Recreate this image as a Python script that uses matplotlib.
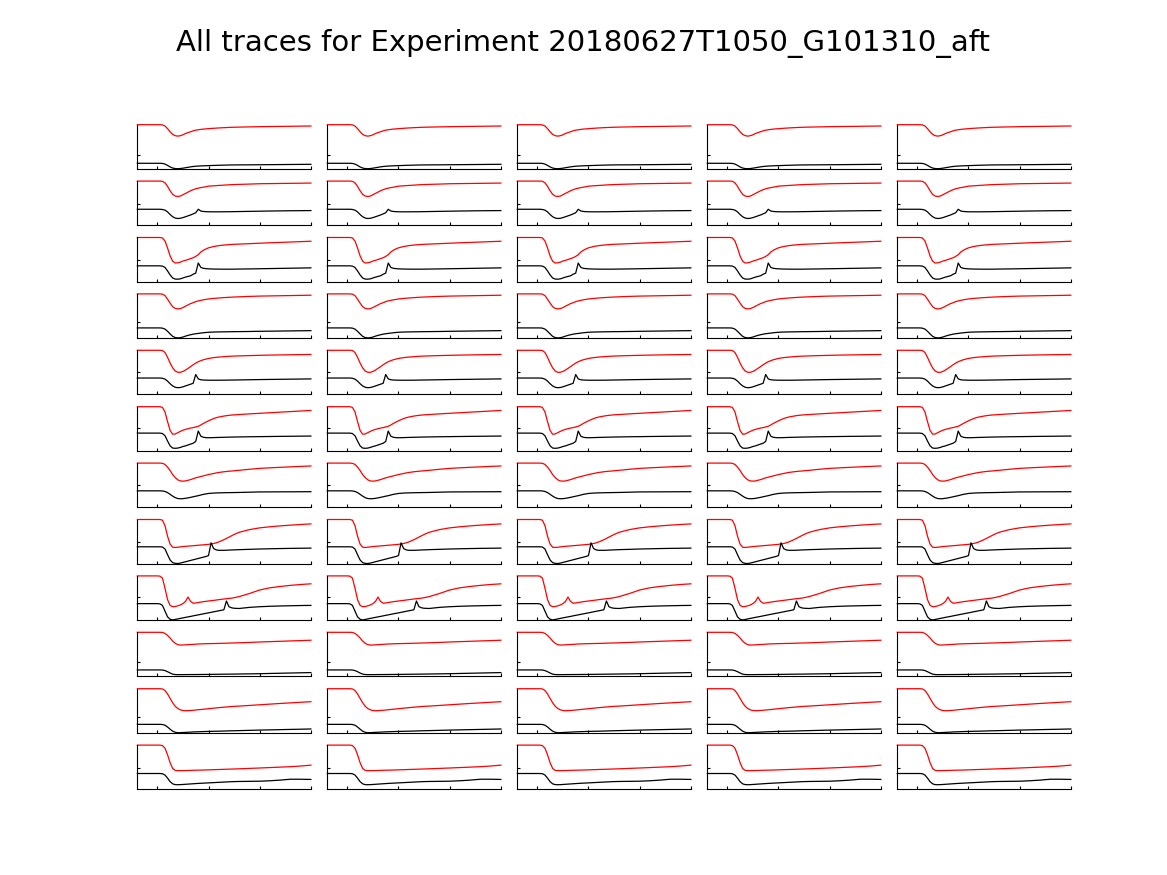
import matplotlib
matplotlib.use("Agg")
import matplotlib.pyplot as plt

TITLE = "All traces for Experiment 20180627T1050_G101310_aft"

# shared time axis (s)
time_s = [-0.39, 0.0, 0.05, 0.1, 0.15, 0.2, 0.25, 0.3, 0.35, 0.4, 0.45, 0.5, 0.55, 0.6, 0.65,
          0.7, 0.75, 0.8, 0.85, 0.9, 0.95, 1.0, 1.05, 1.1, 1.15, 1.2, 1.3, 1.35, 1.4, 1.45,
          1.5, 1.6, 1.8, 2.0, 2.2, 2.4, 2.6, 2.8, 3.0]

x_ticks = [0, 1, 2, 3]

# red traces (normalised) per row
red_r1 = [1.0, 1.0, 1.0, 0.995, 0.97, 0.91, 0.84, 0.78, 0.75, 0.74, 0.75, 0.77, 0.80, 0.82, 0.84, 0.86, 0.875, 0.885, 0.893, 0.9, 0.905, 0.91, 0.914, 0.918, 0.922, 0.926, 0.932, 0.935, 0.938, 0.94, 0.942, 0.945, 0.95, 0.955, 0.958, 0.961, 0.964, 0.967, 0.97]
red_r2 = [1.0, 1.0, 1.0, 0.995, 0.96, 0.88, 0.78, 0.70, 0.66, 0.65, 0.66, 0.69, 0.72, 0.75, 0.78, 0.805, 0.825, 0.84, 0.852, 0.862, 0.872, 0.885, 0.889, 0.893, 0.897, 0.901, 0.908, 0.912, 0.916, 0.919, 0.921, 0.925, 0.932, 0.94, 0.943, 0.946, 0.949, 0.952, 0.955]
red_r3 = [1.0, 1.0, 1.0, 0.99, 0.92, 0.76, 0.58, 0.46, 0.42, 0.425, 0.44, 0.465, 0.48, 0.50, 0.52, 0.54, 0.57, 0.61, 0.67, 0.71, 0.74, 0.765, 0.78, 0.795, 0.805, 0.815, 0.828, 0.833, 0.838, 0.842, 0.845, 0.85, 0.86, 0.87, 0.88, 0.888, 0.897, 0.906, 0.915]
red_r4 = [1.0, 1.0, 1.0, 0.995, 0.96, 0.88, 0.79, 0.71, 0.67, 0.66, 0.665, 0.69, 0.72, 0.75, 0.78, 0.80, 0.825, 0.84, 0.853, 0.865, 0.875, 0.885, 0.891, 0.897, 0.902, 0.907, 0.915, 0.919, 0.923, 0.926, 0.929, 0.934, 0.943, 0.95, 0.954, 0.958, 0.962, 0.966, 0.97]
red_r5 = [1.0, 1.0, 1.0, 0.995, 0.95, 0.84, 0.71, 0.6, 0.53, 0.5, 0.5, 0.52, 0.55, 0.59, 0.63, 0.67, 0.71, 0.74, 0.765, 0.785, 0.80, 0.815, 0.825, 0.833, 0.84, 0.846, 0.855, 0.859, 0.863, 0.866, 0.869, 0.873, 0.88, 0.886, 0.891, 0.895, 0.899, 0.902, 0.905]
red_r6 = [1.0, 1.0, 1.0, 0.985, 0.88, 0.66, 0.46, 0.375, 0.38, 0.41, 0.44, 0.465, 0.485, 0.50, 0.515, 0.525, 0.54, 0.555, 0.585, 0.62, 0.65, 0.68, 0.705, 0.73, 0.75, 0.765, 0.787, 0.796, 0.804, 0.81, 0.815, 0.822, 0.837, 0.85, 0.863, 0.876, 0.889, 0.902, 0.915]
red_r7 = [1.0, 1.0, 1.0, 0.995, 0.97, 0.91, 0.83, 0.74, 0.67, 0.62, 0.595, 0.59, 0.595, 0.61, 0.625, 0.645, 0.665, 0.68, 0.695, 0.71, 0.725, 0.74, 0.752, 0.764, 0.776, 0.787, 0.803, 0.81, 0.816, 0.82, 0.826, 0.836, 0.86, 0.88, 0.893, 0.904, 0.915, 0.925, 0.935]
red_r8 = [1.0, 1.0, 1.0, 0.985, 0.86, 0.62, 0.44, 0.37, 0.365, 0.37, 0.378, 0.385, 0.39, 0.395, 0.4, 0.405, 0.41, 0.415, 0.42, 0.425, 0.43, 0.435, 0.445, 0.455, 0.47, 0.49, 0.54, 0.57, 0.6, 0.63, 0.66, 0.71, 0.77, 0.81, 0.835, 0.855, 0.872, 0.887, 0.9]
red_r9 = [1.0, 1.0, 0.995, 0.95, 0.72, 0.46, 0.33, 0.30, 0.305, 0.32, 0.34, 0.37, 0.42, 0.52, 0.42, 0.38, 0.385, 0.395, 0.405, 0.415, 0.422, 0.43, 0.437, 0.444, 0.452, 0.46, 0.475, 0.482, 0.488, 0.495, 0.505, 0.53, 0.6, 0.68, 0.73, 0.76, 0.785, 0.805, 0.82]
red_r10 = [1.0, 1.0, 1.0, 0.997, 0.975, 0.93, 0.87, 0.8, 0.75, 0.72, 0.71, 0.712, 0.716, 0.72, 0.723, 0.726, 0.73, 0.735, 0.737, 0.739, 0.741, 0.743, 0.744, 0.745, 0.747, 0.748, 0.751, 0.753, 0.755, 0.757, 0.758, 0.762, 0.77, 0.78, 0.788, 0.796, 0.804, 0.812, 0.82]
red_r11 = [1.0, 1.0, 1.0, 0.995, 0.96, 0.88, 0.78, 0.68, 0.6, 0.55, 0.52, 0.505, 0.5, 0.502, 0.506, 0.51, 0.516, 0.522, 0.528, 0.534, 0.54, 0.546, 0.552, 0.558, 0.564, 0.57, 0.58, 0.585, 0.59, 0.595, 0.6, 0.605, 0.62, 0.635, 0.65, 0.665, 0.678, 0.692, 0.705]
red_r12 = [1.0, 1.0, 1.0, 0.99, 0.93, 0.78, 0.6, 0.47, 0.425, 0.42, 0.42, 0.421, 0.422, 0.424, 0.426, 0.428, 0.43, 0.431, 0.432, 0.434, 0.436, 0.438, 0.44, 0.442, 0.444, 0.446, 0.45, 0.452, 0.454, 0.456, 0.458, 0.462, 0.471, 0.48, 0.49, 0.5, 0.51, 0.525, 0.545]

# black traces (normalised) per row
blk_r1 = [0.123, 0.123, 0.123, 0.12, 0.105, 0.075, 0.04, 0.015, 0.003, 0.0, 0.004, 0.012, 0.022, 0.032, 0.042, 0.05, 0.056, 0.06, 0.063, 0.066, 0.068, 0.07, 0.072, 0.074, 0.076, 0.078, 0.081, 0.083, 0.084, 0.085, 0.086, 0.087, 0.088, 0.09, 0.092, 0.094, 0.096, 0.098, 0.1]
blk_r2 = [0.36, 0.36, 0.36, 0.355, 0.34, 0.30, 0.24, 0.19, 0.16, 0.15, 0.155, 0.17, 0.19, 0.21, 0.23, 0.255, 0.28, 0.36, 0.32, 0.31, 0.305, 0.303, 0.302, 0.302, 0.302, 0.302, 0.303, 0.303, 0.304, 0.305, 0.306, 0.308, 0.312, 0.316, 0.32, 0.323, 0.326, 0.328, 0.33]
blk_r3 = [0.356, 0.356, 0.356, 0.35, 0.32, 0.24, 0.15, 0.08, 0.055, 0.053, 0.06, 0.08, 0.1, 0.115, 0.13, 0.165, 0.19, 0.42, 0.32, 0.3, 0.292, 0.288, 0.285, 0.283, 0.282, 0.281, 0.28, 0.28, 0.28, 0.28, 0.281, 0.283, 0.286, 0.29, 0.294, 0.298, 0.302, 0.306, 0.31]
blk_r4 = [0.227, 0.227, 0.227, 0.222, 0.2, 0.15, 0.09, 0.035, 0.008, 0.0, 0.005, 0.02, 0.04, 0.058, 0.072, 0.085, 0.095, 0.102, 0.11, 0.117, 0.123, 0.128, 0.131, 0.133, 0.135, 0.136, 0.138, 0.139, 0.14, 0.141, 0.142, 0.143, 0.146, 0.15, 0.153, 0.156, 0.159, 0.162, 0.165]
blk_r5 = [0.37, 0.37, 0.37, 0.365, 0.345, 0.3, 0.24, 0.19, 0.16, 0.15, 0.155, 0.17, 0.19, 0.21, 0.23, 0.25, 0.45, 0.35, 0.33, 0.325, 0.322, 0.32, 0.32, 0.32, 0.32, 0.32, 0.321, 0.322, 0.323, 0.324, 0.325, 0.327, 0.331, 0.335, 0.338, 0.341, 0.344, 0.347, 0.35]
blk_r6 = [0.40, 0.40, 0.40, 0.39, 0.34, 0.22, 0.11, 0.06, 0.055, 0.06, 0.075, 0.095, 0.11, 0.13, 0.15, 0.17, 0.21, 0.447, 0.33, 0.305, 0.297, 0.295, 0.296, 0.298, 0.3, 0.302, 0.305, 0.307, 0.308, 0.31, 0.311, 0.313, 0.317, 0.32, 0.323, 0.326, 0.328, 0.331, 0.333]
blk_r7 = [0.37, 0.37, 0.37, 0.367, 0.355, 0.33, 0.29, 0.25, 0.215, 0.195, 0.19, 0.192, 0.2, 0.21, 0.222, 0.235, 0.248, 0.26, 0.275, 0.29, 0.3, 0.31, 0.315, 0.319, 0.322, 0.324, 0.327, 0.328, 0.329, 0.33, 0.331, 0.333, 0.339, 0.345, 0.346, 0.347, 0.348, 0.349, 0.35]
blk_r8 = [0.38, 0.38, 0.38, 0.375, 0.33, 0.2, 0.08, 0.02, 0.003, 0.0, 0.01, 0.025, 0.04, 0.055, 0.07, 0.085, 0.1, 0.115, 0.13, 0.145, 0.16, 0.18, 0.47, 0.34, 0.31, 0.3, 0.3, 0.302, 0.305, 0.308, 0.31, 0.315, 0.322, 0.33, 0.335, 0.34, 0.344, 0.347, 0.35]
blk_r9 = [0.37, 0.37, 0.365, 0.33, 0.2, 0.07, 0.015, 0.0, 0.01, 0.023, 0.035, 0.046, 0.058, 0.069, 0.08, 0.092, 0.104, 0.115, 0.127, 0.138, 0.15, 0.16, 0.172, 0.184, 0.196, 0.207, 0.23, 0.43, 0.3, 0.275, 0.265, 0.26, 0.285, 0.3, 0.31, 0.317, 0.322, 0.327, 0.33]
blk_r10 = [0.145, 0.145, 0.145, 0.143, 0.13, 0.105, 0.075, 0.05, 0.04, 0.038, 0.038, 0.038, 0.039, 0.04, 0.04, 0.04, 0.041, 0.041, 0.042, 0.042, 0.043, 0.043, 0.044, 0.045, 0.046, 0.047, 0.048, 0.049, 0.05, 0.05, 0.051, 0.053, 0.056, 0.06, 0.065, 0.07, 0.075, 0.08, 0.085]
blk_r11 = [0.19, 0.19, 0.19, 0.187, 0.17, 0.13, 0.08, 0.035, 0.01, 0.0, 0.002, 0.005, 0.008, 0.011, 0.014, 0.017, 0.02, 0.022, 0.024, 0.026, 0.028, 0.03, 0.031, 0.033, 0.034, 0.035, 0.038, 0.04, 0.042, 0.044, 0.045, 0.048, 0.054, 0.06, 0.065, 0.07, 0.075, 0.08, 0.085]
blk_r12 = [0.355, 0.355, 0.355, 0.35, 0.32, 0.25, 0.17, 0.12, 0.103, 0.1, 0.102, 0.106, 0.11, 0.114, 0.118, 0.122, 0.126, 0.13, 0.133, 0.136, 0.139, 0.142, 0.145, 0.148, 0.151, 0.154, 0.16, 0.163, 0.166, 0.169, 0.171, 0.174, 0.177, 0.18, 0.19, 0.205, 0.225, 0.225, 0.22]

red_rows = [red_r1, red_r2, red_r3, red_r4, red_r5, red_r6, red_r7, red_r8, red_r9, red_r10, red_r11, red_r12]
blk_rows = [blk_r1, blk_r2, blk_r3, blk_r4, blk_r5, blk_r6, blk_r7, blk_r8, blk_r9, blk_r10, blk_r11, blk_r12]

# single y tick value per row
y_tick_rows = [0.31, 0.49, 0.485, 0.36, 0.5, 0.51, 0.5, 0.5, 0.515, 0.33, 0.35, 0.49]

n_rows, n_cols = 12, 5

fig = plt.figure(figsize=(11.67, 8.75), dpi=100)
fig.suptitle(TITLE, fontsize=21, y=1 - 44 / 875, va="center", family="DejaVu Sans")

left0, col_pitch, width = 0.1177, 0.1628, 0.1487
bottom0, row_pitch, height = 0.8072, 0.06446, 0.0503

for r in range(n_rows):
    for c in range(n_cols):
        ax = fig.add_axes([left0 + c * col_pitch, bottom0 - r * row_pitch, width, height])
        ax.plot(time_s, red_rows[r], color="#ff0000", lw=0.9, clip_on=False)
        ax.plot(time_s, blk_rows[r], color="black", lw=0.9, clip_on=False)
        ax.set_xlim(-0.39, 3.0)
        ax.set_ylim(0, 1.0)
        ax.set_xticks(x_ticks)
        ax.set_yticks([y_tick_rows[r]])
        ax.set_xticklabels([])
        ax.set_yticklabels([])
        ax.tick_params(direction="in", length=2, width=0.8)
        for s in ("top", "right"):
            ax.spines[s].set_visible(False)
        for s in ("left", "bottom"):
            ax.spines[s].set_linewidth(0.8)

fig.savefig("out.png", dpi=100)
